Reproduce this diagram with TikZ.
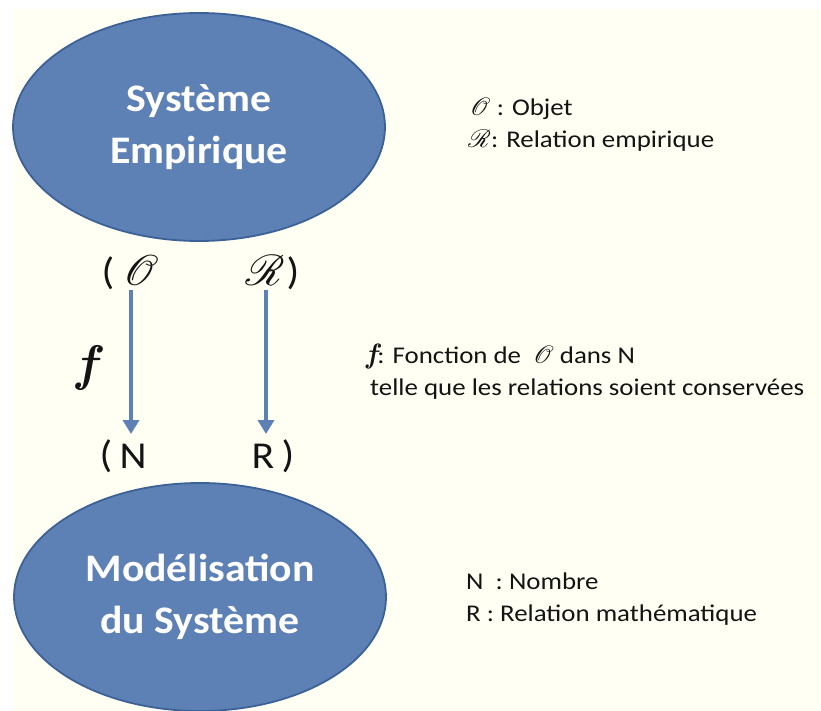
\documentclass[tikz,border=0pt]{standalone}
\usepackage{fontspec}
\usepackage{mathrsfs}
\usepackage{graphicx}
\setmainfont{Carlito}
\newfontfamily\legfont[FakeStretch=1.12]{Carlito}
\newfontfamily\bubfont[FakeStretch=1.07]{Carlito}
\newfontfamily\bigfont[FakeStretch=1.1]{Carlito}
\newfontfamily\lmfont{Latin Modern Roman}
\newcommand\myscr[2]{\scalebox{#1}{\fontsize{10}{12}\selectfont$\mathscr{#2}$}}
\usetikzlibrary{shapes.geometric,arrows.meta}
\definecolor{bgc}{HTML}{FFFFF4}
\definecolor{ellfill}{HTML}{5E81B5}
\definecolor{elldraw}{HTML}{3C6197}
\definecolor{arrc}{HTML}{5E81B5}
\definecolor{txt}{HTML}{141414}
\tikzset{
  bubble/.style={ellipse, fill=ellfill, draw=elldraw, line width=1.8pt,
    minimum width=372pt, minimum height=228pt, inner sep=0pt,
    text=white, align=center, font=\bubfont\fontsize{39}{52}\selectfont\bfseries},
  big/.style={inner sep=0pt, text=txt, font=\bigfont\fontsize{38}{40}\selectfont, anchor=center},
  legend/.style={inner sep=0pt, text=txt, font=\legfont\fontsize{24}{32}\selectfont, anchor=base west, align=left},
  mapar/.style={-{Triangle[length=14pt,width=16pt]}, line width=3.6pt, draw=arrc}
}
\begin{document}
\begin{tikzpicture}[x=1pt,y=-1pt]
\useasboundingbox (0,0) rectangle (821,711);
\fill[bgc] (12,9) rectangle (821,711);
\node[bubble] (emp) at (199,127) {Système\\Empirique};
\node[bubble] (mod) at (200,597) {Modélisation\\du Système};
\node[big] (p1) at (108,273) {(};
\node[big] (calO) at (141,270) {\myscr{4.3}{O}};
\node[big] (calR) at (265,270) {\myscr{4.3}{R}};
\node[big] (p2) at (293,273) {)};
\node[big] (p3) at (106,456) {(};
\node[big] (nN) at (133,456) {N};
\node[big] (nR) at (263,456) {R};
\node[big] (p4) at (288,456) {)};
\coordinate (a1s) at (131,290);
\coordinate (a1e) at (131,434);
\coordinate (a2s) at (266,290);
\coordinate (a2e) at (266,434);
\draw[mapar] (a1s) -- (a1e);
\draw[mapar] (a2s) -- (a2e);
\node[big, font=\lmfont\fontsize{50}{50}\selectfont\bfseries\itshape] (ff) at (86,368) {f};
\node[legend] (l1) at (470,116) {\myscr{2.5}{O} : Objet};
\node[legend] (l2) at (468,148) {\myscr{2.5}{R}: Relation empirique};
\node[legend] (l3) at (366,363) {{\lmfont\bfseries\itshape\fontsize{28}{32}\selectfont f}: Fonction de \ \myscr{2.5}{O} dans N};
\node[legend] (l4) at (370,395) {telle que les relations soient conservées};
\node[legend] (l5) at (466,589) {N \ : Nombre};
\node[legend] (l6) at (466,621) {R : Relation mathématique};
\end{tikzpicture}
\end{document}
